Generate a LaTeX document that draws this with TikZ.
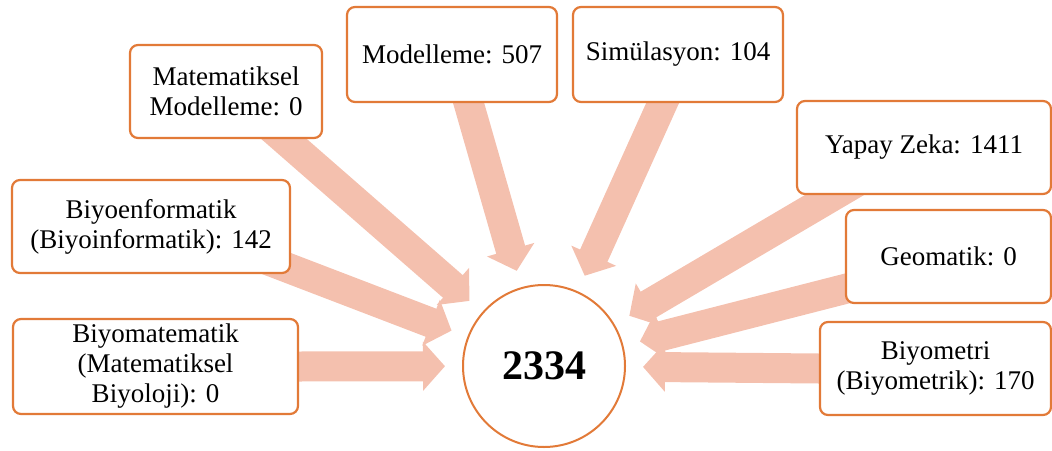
\documentclass[tikz,border=0pt]{standalone}
\usepackage{fontspec}
\setmainfont{Liberation Serif}
\usetikzlibrary{arrows.meta,backgrounds}

\definecolor{boxorange}{RGB}{226,122,56}
\definecolor{arrowpink}{RGB}{244,192,174}

\begin{document}
\begin{tikzpicture}[
    x = 1pt,
    y = -1pt,
    fieldbox/.style={
        draw = boxorange,
        fill = white,
        line width = 2.2pt,
        rounded corners = 8pt,
        rectangle,
        align = center,
        inner sep = 0pt,
        font = \fontsize{27}{30}\selectfont,
        },
    totalnode/.style={
        draw = boxorange,
        fill = white,
        line width = 2pt,
        circle,
        inner sep = 0pt,
        minimum size = 162pt,
        font = \fontsize{42}{48}\selectfont\bfseries,
        },
    flow/.style={
        draw = arrowpink,
        line width = 30pt,
        -{Triangle[width=48pt,length=22pt]},
        shorten > = 17pt,
        },
]

\useasboundingbox (0,0) rectangle (1052,450);

\node[totalnode] (total) at (544,366) {2334};

\node[fieldbox, minimum width=192pt, minimum height=93pt] (matmod) at (226,91.5) {Matematiksel\\Modelleme: 0};
\node[fieldbox, minimum width=210pt, minimum height=95pt] (model) at (452,54.5) {Modelleme: 507};
\node[fieldbox, minimum width=210pt, minimum height=95pt] (simul) at (678,54.5) {Simülasyon: 104};
\node[fieldbox, minimum width=254pt, minimum height=93pt] (yapay) at (924,147.5) {Yapay Zeka: 1411};
\node[fieldbox, minimum width=205pt, minimum height=93pt] (geomat) at (948.5,256.5) {Geomatik: 0};
\node[fieldbox, minimum width=231pt, minimum height=93pt] (biyomet) at (935.5,368.5) {Biyometri\\(Biyometrik): 170};
\node[fieldbox, minimum width=278pt, minimum height=93pt] (biyoinf) at (151,226.5) {Biyoenformatik\\(Biyoinformatik): 142};
\node[fieldbox, minimum width=285pt, minimum height=95pt] (biyomat) at (155.5,366.5) {Biyomatematik\\(Matematiksel\\Biyoloji): 0};

% arrow tails sit under the boxes
\coordinate (matmod tail) at (260,118);
\coordinate (model tail) at (462,80);
\coordinate (simul tail) at (673,80);
\coordinate (yapay tail) at (860,180);
\coordinate (geomat tail) at (880,280);
\coordinate (biyoinf tail) at (262,258);

\begin{scope}[on background layer]
    \draw[flow] (matmod tail) -- (total);
    \draw[flow] (model tail) -- (total);
    \draw[flow] (simul tail) -- (total);
    \draw[flow] (yapay tail) -- (total);
    \draw[flow] (geomat tail) -- (total);
    \draw[flow] (biyomet.west) -- (total);
    \draw[flow] (biyoinf tail) -- (total);
    \draw[flow] (biyomat.east) -- (total);
\end{scope}

\end{tikzpicture}
\end{document}
